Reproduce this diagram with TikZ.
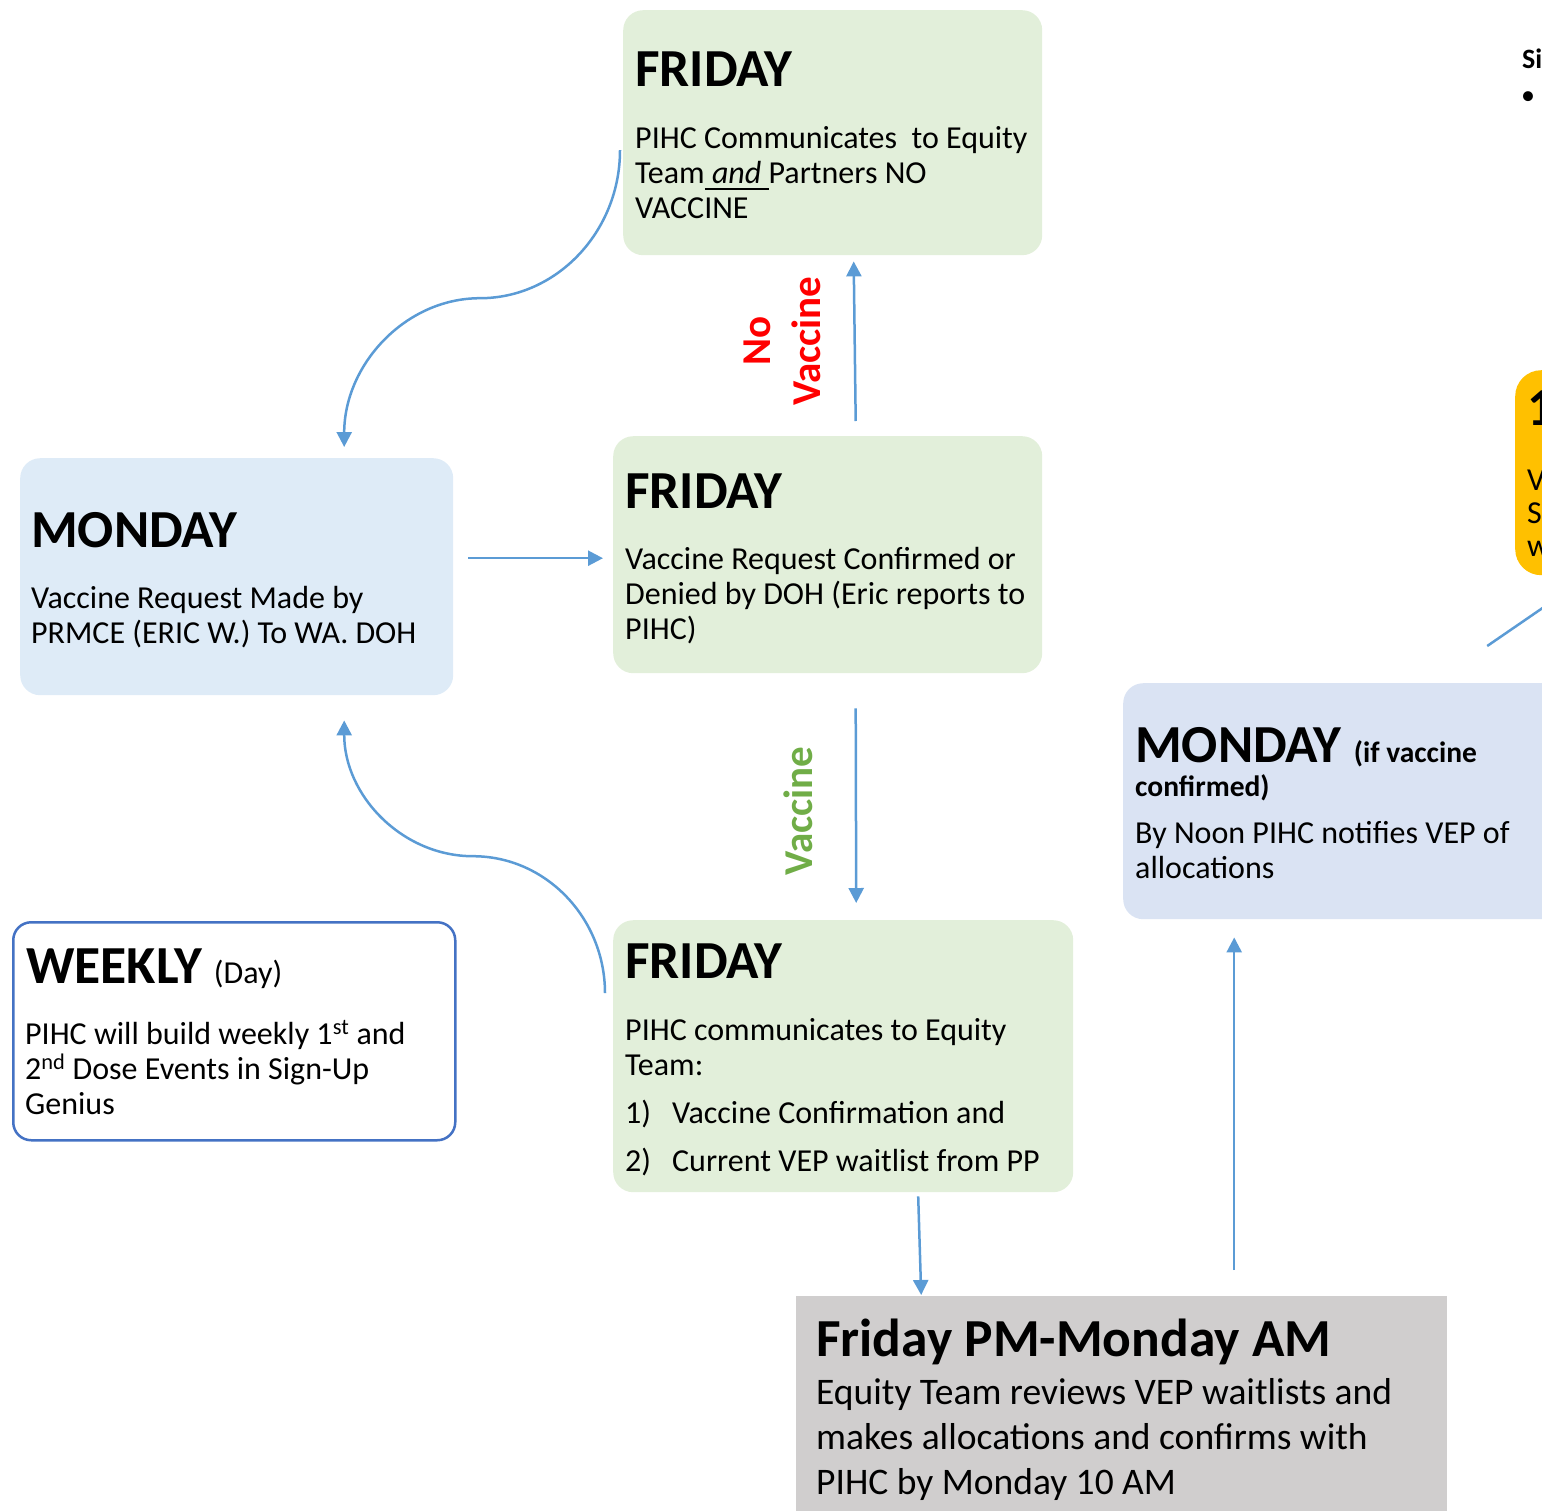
\documentclass[tikz,border=0pt]{standalone}
\usepackage{fontspec}
\setmainfont{Carlito}
\usepackage{tikz}
\usetikzlibrary
  {
    arrows.meta,              % triangle arrow heads
    positioning,              % place nodes relative to other nodes
    calc,
  }

\definecolor{frigreen}{HTML}{E2EFDA}
\definecolor{monblue}{HTML}{DEEBF7}
\definecolor{monlav}{HTML}{DAE3F3}
\definecolor{wkgray}{HTML}{D0CECE}
\definecolor{wkyellow}{HTML}{FFC000}
\definecolor{connblue}{HTML}{5B9BD5}
\definecolor{wkborder}{HTML}{4472C4}
\definecolor{novacred}{HTML}{FF0000}
\definecolor{vacgreen}{HTML}{70AD47}

\newsavebox\ulsave
\newcommand{\ulword}[1]{\sbox\ulsave{#1}\rlap{\rule[-7pt]{\wd\ulsave}{2.2pt}}\usebox\ulsave}
\newcommand{\headfont}{\fontsize{53.5}{61}\selectfont\bfseries}
\newcommand{\bodyfont}{\fontsize{32}{35}\selectfont}
\newcommand{\lines}[1]{\parbox[t]{700pt}{\raggedright #1}}

\tikzset{
  daybox/.style={rounded corners=20pt, inner sep=0, anchor=north west},
  head/.style={anchor=base west, inner sep=0, font=\headfont},
  body/.style={anchor=base west, inner sep=0, font=\bodyfont},
  conn/.style={draw=connblue, line width=2.5pt, -{Triangle[width=15pt,length=15pt]}},
  sidelbl/.style={inner sep=0, rotate=90, align=center, font=\fontsize{41}{50}\selectfont\bfseries},
}

\begin{document}
  \begin{tikzpicture}[x=1pt,y=-1pt]
    \useasboundingbox (0,0) rectangle (1542,1510);
    \clip (0,0) rectangle (1542,1510);

    % the boxes
    \node (fritop) [daybox, fill=frigreen, minimum width=419, minimum height=245] at (623,10) {};
    \node (frimid) [daybox, fill=frigreen, minimum width=429, minimum height=237] at (613,436) {};
    \node (fribot) [daybox, fill=frigreen, minimum width=460, minimum height=272] at (613,920) {};
    \node (monl) [daybox, fill=monblue, minimum width=433, minimum height=237] at (20,458) {};
    \node (weekly) [daybox, draw=wkborder, line width=2.5pt, fill=white, rounded corners=18pt,
                    minimum width=442, minimum height=218] at (12,921) {};
    \node (gray) [daybox, fill=wkgray, rounded corners=0pt, minimum width=651, minimum height=240] at (796,1296) {};
    \node (monr) [daybox, fill=monlav, minimum width=480, minimum height=236] at (1123,683) {};
    \node (yel) [daybox, fill=wkyellow, rounded corners=26pt, minimum width=200, minimum height=205] at (1515,370) {};

    % texts
    \node (fritop-h) [head] at ([shift={(12,76)}]fritop.north west) {FRIDAY};
    \node (fritop-b) [body] at ([shift={(12,138)}]fritop.north west)
      {\lines{PIHC Communicates\ \ to Equity\\
              Team\ulword{\ \textit{and}\ }Partners NO\\
              VACCINE}};
    \node (frimid-h) [head] at ([shift={(12,72)}]frimid.north west) {FRIDAY};
    \node (frimid-b) [body] at ([shift={(12,133)}]frimid.north west)
      {\lines{Vaccine Request Confirmed or\\
              Denied by DOH (Eric reports to\\
              PIHC)}};
    \node (monl-h) [head] at ([shift={(11,89)}]monl.north west) {MONDAY};
    \node (monl-b) [body] at ([shift={(11,150)}]monl.north west)
      {\lines{Vaccine Request Made by\\
              PRMCE (ERIC W.) To WA. DOH}};
    \node (fribot-h) [head] at ([shift={(12,58)}]fribot.north west) {FRIDAY};
    \node (fribot-b) [body] at ([shift={(12,120)}]fribot.north west)
      {\lines{PIHC communicates to Equity\\
              Team:\\[13pt]
              \makebox[47pt][l]{1)}Vaccine Confirmation and\\[13pt]
              \makebox[47pt][l]{2)}Current VEP waitlist from PP}};
    \node (weekly-h) [head] at ([shift={(14,62)}]weekly.north west) {WEEKLY {\bodyfont\mdseries (Day)}};
    \node (weekly-b) [body] at ([shift={(13,123)}]weekly.north west)
      {\lines{PIHC will build weekly 1\textsuperscript{st} and\\
              2\textsuperscript{nd} Dose Events in Sign-Up\\
              Genius}};
    \node (gray-h) [head, font=\fontsize{53.5}{60}\selectfont\bfseries] at ([shift={(20,60)}]gray.north west)
      {Friday PM-Monday AM};
    \node (gray-b) [body, font=\fontsize{37.5}{45}\selectfont] at ([shift={(20,108)}]gray.north west)
      {\lines{Equity Team reviews VEP waitlists and\\
              makes allocations and confirms with\\
              PIHC by Monday 10 AM}};
    \node (monr-h) [head] at ([shift={(12,79)}]monr.north west)
      {MONDAY {\fontsize{29.5}{34}\selectfont (if vaccine}};
    \node (monr-b) [body] at ([shift={(12,113)}]monr.north west)
      {\lines{{\fontsize{29.5}{34}\selectfont\bfseries confirmed)}\\[12pt]
              By Noon PIHC notifies VEP of\\
              allocations}};
    \node (yel-h) [head] at ([shift={(12,55)}]yel.north west) {1};
    \node (yel-b) [body, font=\fontsize{32}{33}\selectfont] at ([shift={(12,120)}]yel.north west)
      {\lines{V\\S\\w}};
    \node (side-h) [body, font=\fontsize{28}{34}\selectfont\bfseries] at (1522,68) {Si};
    \node (side-b) [body, font=\fontsize{28}{34}\selectfont] at (1521,104) {•};

    % labels on the arrows
    \node (lbl-novac) [sidelbl, text=novacred] at (782,341) {No\\Vaccine};
    \node (lbl-vac) [sidelbl, text=vacgreen] at (798,811) {Vaccine};

    % connectors
    \draw[conn, shorten <=15pt, shorten >=10pt] ([yshift=-3.5pt]monl.east |- frimid.west) -- ([yshift=-3.5pt]frimid.west);
    \draw[conn] ([xshift=28pt,yshift=15pt]frimid.north) -- ([xshift=21pt,yshift=-6pt]fritop.south);
    \draw[conn] ([xshift=28pt,yshift=-35pt]frimid.south) -- ([xshift=13pt,yshift=17pt]fribot.north);
    \draw[conn] ([xshift=75pt,yshift=-4pt]fribot.south) -- ([xshift=-200.5pt,yshift=1pt]gray.north);
    \draw[conn] ([xshift=112.5pt,yshift=26pt]gray.north) -- ([xshift=-129pt,yshift=-18pt]monr.south);
    \draw[conn] ([xshift=124pt,yshift=37pt]monr.north) -- ([xshift=-47pt,yshift=-15pt]yel.south);
    \draw[conn] ([xshift=-3pt,yshift=-17.5pt]fritop.west)
      .. controls +(0,81) and +(77,0) .. ++(-140,148)
      .. controls +(-75,0) and +(0,-82) .. ([xshift=107.5pt,yshift=11pt]monl.north);
    \draw[conn] ([xshift=-8pt,yshift=63pt]fribot.west)
      .. controls +(0,-75) and +(73,0) .. ++(-132,-137)
      .. controls +(-71,0) and +(0,75) .. ([xshift=107.5pt,yshift=-25pt]monl.south);
  \end{tikzpicture}
\end{document}
